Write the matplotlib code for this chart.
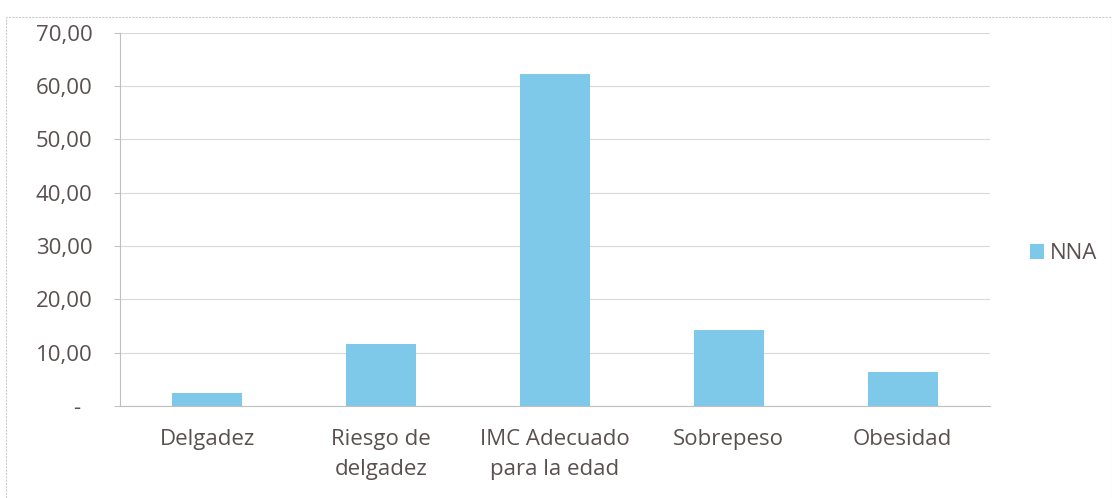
import matplotlib.pyplot as plt
from matplotlib.patches import Rectangle

categories = ["Delgadez", "Riesgo de\ndelgadez", "IMC Adecuado\npara la edad", "Sobrepeso", "Obesidad"]
values = [2.4, 11.6, 62.3, 14.3, 6.4]
yticks = [0, 10, 20, 30, 40, 50, 60, 70]
ytick_labels = ["-  ", "10,00", "20,00", "30,00", "40,00", "50,00", "60,00", "70,00"]
series_name = "NNA"

bar_color = "#7ec9e9"
text_color = "#5a5050"
grid_color = "#d9d9d9"

plt.rcParams["font.family"] = ["Open Sans", "DejaVu Sans"]

fig = plt.figure(figsize=(11.12, 4.98), dpi=100)
ax = fig.add_axes([0.108, 0.185, 0.782, 0.749])

x = list(range(len(categories)))
ax.bar(x, values, width=0.4, color=bar_color, label=series_name, zorder=3)

ax.set_xlim(-0.5, len(categories) - 0.5)
ax.set_ylim(0, 70)
ax.set_yticks(yticks)
ax.set_yticklabels(ytick_labels, fontsize=16, color=text_color)
ax.set_xticks(x)
ax.set_xticklabels(categories, fontsize=16, color=text_color, linespacing=1.55)
ax.tick_params(axis="y", length=4, color="#bfbfbf", pad=16)
ax.tick_params(axis="x", length=0, pad=17)
ax.yaxis.grid(True, color=grid_color, linewidth=0.8, zorder=0)

for s in ["top", "right"]:
    ax.spines[s].set_visible(False)
ax.spines["left"].set_color("#bfbfbf")
ax.spines["bottom"].set_color("#bfbfbf")

leg = fig.legend(loc="center left", bbox_to_anchor=(0.908, 0.49), frameon=False,
                 fontsize=16, handlelength=0.65, handleheight=0.65, handletextpad=0.25)
for t in leg.get_texts():
    t.set_color(text_color)

# outer chart frame
fig.patches.append(Rectangle((0.005, -0.01), 0.995, 0.975, transform=fig.transFigure,
                             fill=False, edgecolor="#cccccc", linewidth=0.8, linestyle=(0, (2, 1))))

fig.savefig("out.png", dpi=100, facecolor="white")
